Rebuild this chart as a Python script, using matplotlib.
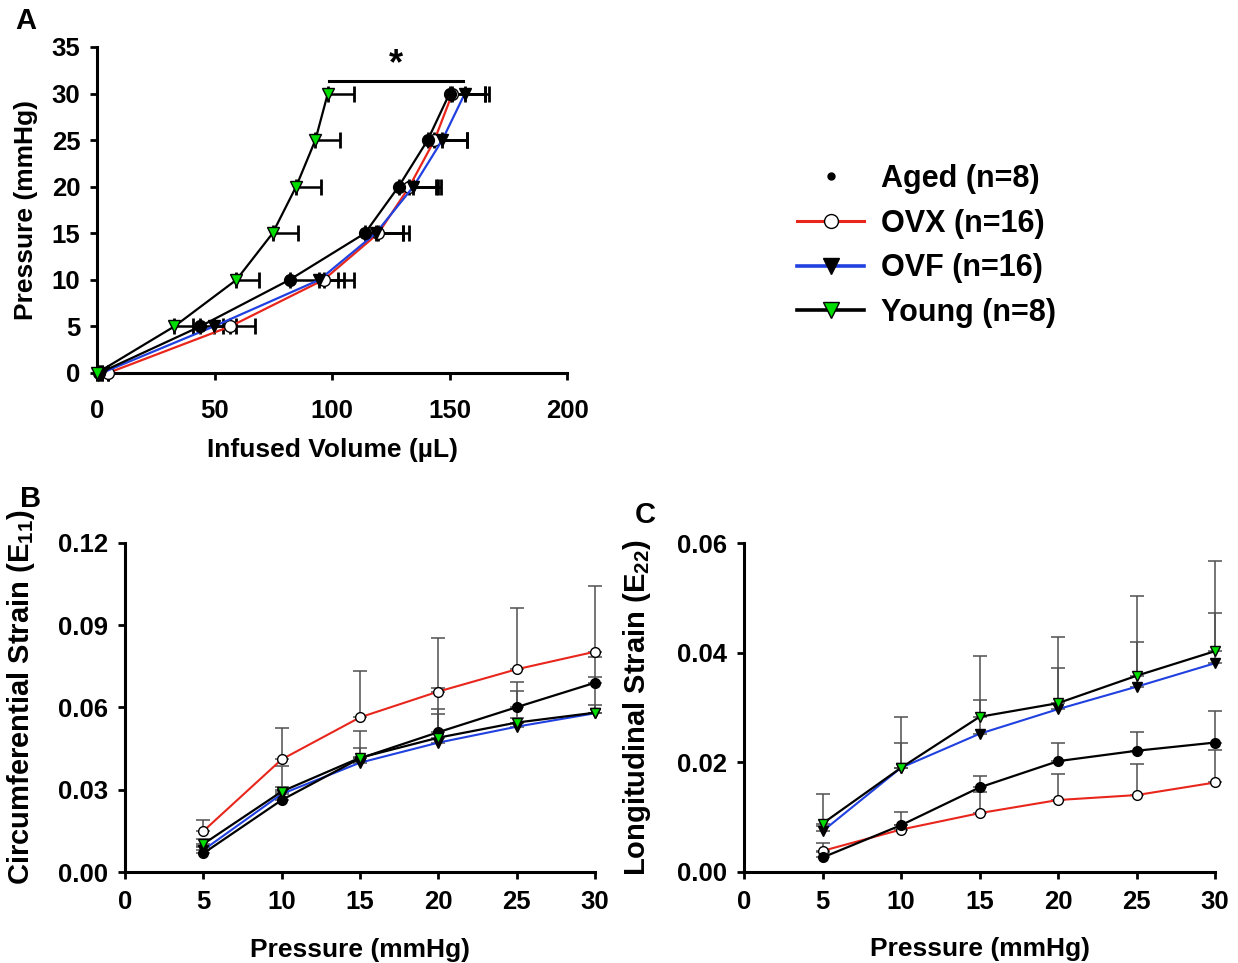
import matplotlib
matplotlib.use("Agg")
import matplotlib.pyplot as plt
from matplotlib.lines import Line2D

plt.rcParams["font.family"] = ["Liberation Sans", "DejaVu Sans"]
plt.rcParams["font.weight"] = "bold"
plt.rcParams["mathtext.fontset"] = "custom"
plt.rcParams["mathtext.rm"] = "Liberation Sans:bold"
plt.rcParams["mathtext.default"] = "rm"

# ── Data ──────────────────────────────────────────────────────────────────
# Panel A: pressure vs infused volume (error bars to the right only)
pressure_a = [0, 5, 10, 15, 20, 25, 30]
vol_aged = [1.0, 43.9, 81.9, 114.0, 128.3, 140.7, 150.0]
vol_aged_err = [0, 15.4, 23.1, 16.0, 16.0, 16.9, 15.0]
vol_ovx = [4.7, 56.7, 96.4, 119.7, 132.9, 143.6, 151.2]
vol_ovx_err = [0, 10.5, 12.9, 13.2, 12.4, 13.8, 13.8]
vol_ovf = [2.0, 49.7, 94.6, 118.6, 134.6, 146.9, 156.5]
vol_ovf_err = [0, 4.0, 8.0, 11.4, 11.7, 10.7, 10.2]
vol_young = [0.0, 32.9, 59.3, 74.7, 84.7, 92.9, 98.2]
vol_young_err = [0, 7.8, 9.7, 10.8, 10.6, 10.7, 11.1]

# significance bar (Young vs others at 30 mmHg)
sig_x = [98.7, 155.9]
sig_y = 31.3

# Panels B and C: strain vs pressure (error bars upward only)
pressure_bc = [5, 10, 15, 20, 25, 30]
e11_aged = [0.0069, 0.0263, 0.0415, 0.0510, 0.0601, 0.0690]
e11_aged_err = [0.0026, 0.0125, 0.0099, 0.0162, 0.0091, 0.0095]
e11_ovx = [0.0150, 0.0411, 0.0564, 0.0658, 0.0739, 0.0803]
e11_ovx_err = [0.0042, 0.0115, 0.0169, 0.0194, 0.0224, 0.0239]
e11_ovf = [0.0081, 0.0285, 0.0399, 0.0472, 0.0530, 0.0579]
e11_ovf_err = [0.0012, 0.0015, 0.0020, 0.0103, 0.0030, 0.0030]
e11_young = [0.0103, 0.0294, 0.0417, 0.0490, 0.0545, 0.0581]
e11_young_err = [0.0017, 0.0016, 0.0034, 0.0103, 0.0115, 0.0131]

e22_aged = [0.0026, 0.0085, 0.0154, 0.0202, 0.0221, 0.0236]
e22_aged_err = [0.0010, 0.0025, 0.0021, 0.0033, 0.0035, 0.0058]
e22_ovx = [0.0038, 0.0077, 0.0107, 0.0131, 0.0140, 0.0163]
e22_ovx_err = [0.0014, 0.0008, 0.0038, 0.0047, 0.0056, 0.0059]
e22_ovf = [0.0074, 0.0190, 0.0252, 0.0297, 0.0338, 0.0381]
e22_ovf_err = [0.0010, 0.0045, 0.0062, 0.0076, 0.0081, 0.0091]
e22_young = [0.0088, 0.0190, 0.0283, 0.0308, 0.0358, 0.0403]
e22_young_err = [0.0054, 0.0093, 0.0112, 0.0121, 0.0145, 0.0165]

labels = ["Aged (n=8)", "OVX (n=16)", "OVF (n=16)", "Young (n=8)"]

# ── Styles ────────────────────────────────────────────────────────────────
RED = "#e8261c"
BLUE = "#2040e0"
GREEN = "#00dd00"
STYLE = {
    "aged": dict(color="black", marker="o", mfc="black", mec="black"),
    "ovx": dict(color=RED, marker="o", mfc="white", mec="black"),
    "ovf": dict(color=BLUE, marker="v", mfc="black", mec="black"),
    "young": dict(color="black", marker="v", mfc=GREEN, mec="black"),
}
TICK_FS = 18.5
LABEL_FS = 19
STRAIN_LABEL_FS = 21


def style_axes(ax, xpad, ypad=7):
    for s in ("top", "right"):
        ax.spines[s].set_visible(False)
    for s in ("left", "bottom"):
        ax.spines[s].set_linewidth(2.2)
    ax.tick_params(axis="both", direction="out", length=5, width=2,
                   labelsize=TICK_FS)
    ax.tick_params(axis="x", pad=xpad)
    ax.tick_params(axis="y", pad=ypad)
    for t in ax.get_xticklabels() + ax.get_yticklabels():
        t.set_fontweight("bold")


def strain_series(ax, x, y, err, key, lw):
    st = STYLE[key]
    ax.errorbar(x, y, yerr=[[0] * len(err), err], fmt="none",
                ecolor="#505050", elinewidth=1.1, capsize=5, capthick=1.1,
                zorder=2, clip_on=False)
    ax.plot(x, y, color=st["color"], lw=lw, marker=st["marker"],
            ms=7, mfc=st["mfc"], mec=st["mec"], mew=1, zorder=3,
            clip_on=False)


fig = plt.figure(figsize=(12.38, 9.63), dpi=100)

# ── Panel A ───────────────────────────────────────────────────────────────
ax_a = fig.add_axes([0.0784, 0.6127, 0.3796, 0.3385])
series_a = [
    ("ovx", vol_ovx, vol_ovx_err),
    ("ovf", vol_ovf, vol_ovf_err),
    ("aged", vol_aged, vol_aged_err),
    ("young", vol_young, vol_young_err),
]
for key, vol, err in series_a:
    st = STYLE[key]
    ax_a.errorbar(vol, pressure_a, xerr=[[0] * len(err), err], fmt="none",
                  ecolor="black", elinewidth=1.8, capsize=6, capthick=2,
                  zorder=2, clip_on=False)
    ax_a.plot(vol, pressure_a, color=st["color"], lw=1.6, marker=st["marker"],
              ms=8.5, mfc=st["mfc"], mec=st["mec"], mew=1, zorder=3,
              clip_on=False)
ax_a.plot(sig_x, [sig_y, sig_y], color="black", lw=2.2, clip_on=False)
ax_a.text(sum(sig_x) / 2, sig_y - 0.1, "*", ha="center", va="bottom",
          fontsize=26, fontweight="bold")
ax_a.set_xlim(0, 200)
ax_a.set_ylim(0, 35)
ax_a.set_xticks([0, 50, 100, 150, 200])
ax_a.set_yticks(range(0, 36, 5))
style_axes(ax_a, xpad=14)
ax_a.set_xlabel("Infused Volume (µL)", fontsize=LABEL_FS, fontweight="bold")
ax_a.set_ylabel("Pressure (mmHg)", fontsize=LABEL_FS, fontweight="bold")
ax_a.xaxis.set_label_coords(0.5, -0.2)
ax_a.yaxis.set_label_coords(-0.126, 0.5)

# ── Panel B ───────────────────────────────────────────────────────────────
ax_b = fig.add_axes([0.1010, 0.0942, 0.3796, 0.3423])
strain_series(ax_b, pressure_bc, e11_ovx, e11_ovx_err, "ovx", 1.5)
strain_series(ax_b, pressure_bc, e11_ovf, e11_ovf_err, "ovf", 1.5)
strain_series(ax_b, pressure_bc, e11_aged, e11_aged_err, "aged", 1.6)
strain_series(ax_b, pressure_bc, e11_young, e11_young_err, "young", 1.6)
ax_b.set_xlim(0, 30)
ax_b.set_ylim(0, 0.12)
ax_b.set_xticks(range(0, 31, 5))
ax_b.set_yticks([0.0, 0.03, 0.06, 0.09, 0.12])
ax_b.set_yticklabels(["0.00", "0.03", "0.06", "0.09", "0.12"])
style_axes(ax_b, xpad=8)
ax_b.set_xlabel("Pressure (mmHg)", fontsize=LABEL_FS, fontweight="bold")
ax_b.set_ylabel(r"Circumferential Strain (E$_{11}$)", fontsize=STRAIN_LABEL_FS,
                fontweight="bold")
ax_b.xaxis.set_label_coords(0.5, -0.2)
ax_b.yaxis.set_label_coords(-0.187, 0.53)

# ── Panel C ───────────────────────────────────────────────────────────────
ax_c = fig.add_axes([0.6010, 0.0948, 0.3805, 0.3410])
strain_series(ax_c, pressure_bc, e22_ovx, e22_ovx_err, "ovx", 1.5)
strain_series(ax_c, pressure_bc, e22_ovf, e22_ovf_err, "ovf", 1.5)
strain_series(ax_c, pressure_bc, e22_aged, e22_aged_err, "aged", 1.6)
strain_series(ax_c, pressure_bc, e22_young, e22_young_err, "young", 1.6)
ax_c.set_xlim(0, 30)
ax_c.set_ylim(0, 0.06)
ax_c.set_xticks(range(0, 31, 5))
ax_c.set_yticks([0.0, 0.02, 0.04, 0.06])
ax_c.set_yticklabels(["0.00", "0.02", "0.04", "0.06"])
style_axes(ax_c, xpad=8)
ax_c.set_xlabel("Pressure (mmHg)", fontsize=LABEL_FS, fontweight="bold")
ax_c.set_ylabel(r"Longitudinal Strain (E$_{22}$)", fontsize=STRAIN_LABEL_FS,
                fontweight="bold")
ax_c.xaxis.set_label_coords(0.5, -0.2)
ax_c.yaxis.set_label_coords(-0.193, 0.5)

# ── Legend ────────────────────────────────────────────────────────────────
handles = [
    Line2D([], [], ls="none", marker="o", ms=5, mfc="black", mec="black"),
    Line2D([], [], color=RED, lw=2.2, marker="o", ms=10, mfc="white",
           mec="black", mew=1),
    Line2D([], [], color=BLUE, lw=2.6, marker="v", ms=11, mfc="black",
           mec="black"),
    Line2D([], [], color="black", lw=2.6, marker="v", ms=11, mfc=GREEN,
           mec="black"),
]
fig.legend(handles, labels, loc="upper left",
           bbox_to_anchor=(797 / 1238, 1 - 164 / 963), frameon=False,
           borderpad=0, borderaxespad=0, handlelength=2.2,
           handletextpad=0.55, labelspacing=0.48,
           prop={"size": 22, "weight": "bold"})

# ── Panel letters ─────────────────────────────────────────────────────────
for letter, (px, py) in {"A": (26, 21), "B": (31, 499), "C": (645, 515)}.items():
    fig.text(px / 1238, 1 - py / 963, letter, ha="center", va="center",
             fontsize=21, fontweight="bold")

fig.savefig("out.png", dpi=100)
